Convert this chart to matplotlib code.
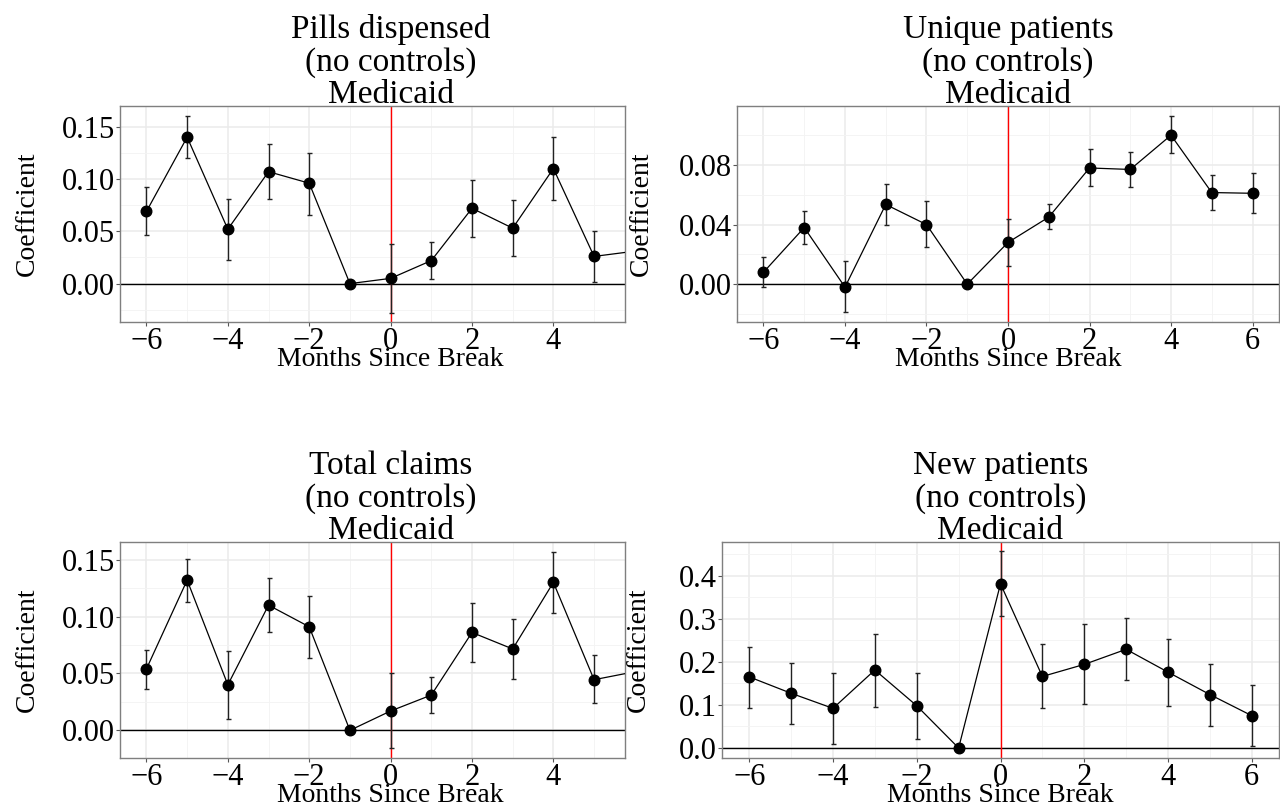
import matplotlib
matplotlib.use("Agg")
import matplotlib.pyplot as plt
import matplotlib.transforms as mtransforms
from matplotlib.ticker import MultipleLocator, FormatStrFormatter
import numpy as np

plt.rcParams["font.family"] = ["Liberation Serif", "DejaVu Serif"]

months = [-6, -5, -4, -3, -2, -1, 0, 1, 2, 3, 4, 5, 6]

pills_coef = [0.069, 0.140, 0.052, 0.107, 0.096, 0.0, 0.005, 0.022, 0.072, 0.053, 0.110, 0.026, 0.031]
pills_lo = [0.046, 0.120, 0.023, 0.081, 0.066, 0.0, -0.028, 0.004, 0.045, 0.026, 0.080, 0.002, 0.007]
pills_hi = [0.092, 0.160, 0.081, 0.133, 0.125, 0.0, 0.038, 0.040, 0.099, 0.080, 0.140, 0.050, 0.055]

patients_coef = [0.008, 0.038, -0.002, 0.0535, 0.040, 0.0, 0.028, 0.045, 0.078, 0.077, 0.100, 0.0615, 0.061]
patients_lo = [-0.002, 0.027, -0.019, 0.040, 0.025, 0.0, 0.012, 0.037, 0.066, 0.065, 0.088, 0.050, 0.048]
patients_hi = [0.018, 0.049, 0.0155, 0.067, 0.0555, 0.0, 0.0435, 0.0535, 0.0905, 0.089, 0.113, 0.0735, 0.0745]

claims_coef = [0.054, 0.132, 0.040, 0.110, 0.091, 0.0, 0.017, 0.031, 0.086, 0.0715, 0.130, 0.0445, 0.0515]
claims_lo = [0.0365, 0.113, 0.010, 0.086, 0.0635, 0.0, -0.0155, 0.015, 0.060, 0.045, 0.103, 0.024, 0.030]
claims_hi = [0.071, 0.151, 0.070, 0.134, 0.118, 0.0, 0.050, 0.047, 0.112, 0.098, 0.157, 0.066, 0.073]

new_coef = [0.165, 0.127, 0.092, 0.181, 0.098, 0.0, 0.381, 0.166, 0.194, 0.229, 0.176, 0.124, 0.075]
new_lo = [0.093, 0.055, 0.010, 0.096, 0.022, 0.0, 0.307, 0.092, 0.102, 0.158, 0.098, 0.051, 0.004]
new_hi = [0.235, 0.197, 0.175, 0.265, 0.174, 0.0, 0.457, 0.242, 0.287, 0.301, 0.254, 0.196, 0.147]

W, H = 1280, 808
fig = plt.figure(figsize=(W / 100, H / 100), dpi=100)
fig.patch.set_facecolor("white")


def px_box(left, top, right, bottom):
    return [left / W, 1 - bottom / H, (right - left) / W, (bottom - top) / H]


panels = [
    dict(title="Pills dispensed", coef=pills_coef, lo=pills_lo, hi=pills_hi,
         box=px_box(120, 106, 625, 322), xlim=(-6.65, 5.76), ylim=(-0.0367, 0.1698),
         major=0.05, fmt="%.2f", ylab_x=27),
    dict(title="Unique patients", coef=patients_coef, lo=patients_lo, hi=patients_hi,
         box=px_box(737, 106, 1279, 322), xlim=(-6.65, 6.65), ylim=(-0.0254, 0.1196),
         major=0.04, fmt="%.2f", ylab_x=641),
    dict(title="Total claims", coef=claims_coef, lo=claims_lo, hi=claims_hi,
         box=px_box(120, 542, 625, 758), xlim=(-6.65, 5.76), ylim=(-0.0243, 0.1655),
         major=0.05, fmt="%.2f", ylab_x=27),
    dict(title="New patients", coef=new_coef, lo=new_lo, hi=new_hi,
         box=px_box(722, 542, 1279, 758), xlim=(-6.65, 6.65), ylim=(-0.0232, 0.478),
         major=0.1, fmt="%.1f", ylab_x=638),
]

grid_col = "#EBEBEB"
frame_col = "#7F7F7F"

for p in panels:
    ax = fig.add_axes(p["box"])
    ax.set_facecolor("white")
    ax.set_xlim(*p["xlim"])
    ax.set_ylim(*p["ylim"])

    ax.xaxis.set_major_locator(MultipleLocator(2))
    ax.xaxis.set_minor_locator(MultipleLocator(1))
    ax.yaxis.set_major_locator(MultipleLocator(p["major"]))
    ax.yaxis.set_minor_locator(MultipleLocator(p["major"] / 2))
    ax.yaxis.set_major_formatter(FormatStrFormatter(p["fmt"]))

    ax.grid(which="major", color=grid_col, linewidth=1.1, zorder=0)
    ax.grid(which="minor", color="#F3F3F3", linewidth=0.6, zorder=0)
    ax.set_axisbelow(True)

    for s in ax.spines.values():
        s.set_color(frame_col)
        s.set_linewidth(1.0)

    ax.tick_params(which="major", direction="out", length=3, width=0.8,
                   color="#555555", labelsize=22, labelcolor="black", pad=0.5)
    ax.tick_params(which="minor", length=0)

    ax.axhline(0, color="black", linewidth=1.0, zorder=2)
    ax.axvline(0, color="#FF0000", linewidth=1.0, zorder=2.5)

    x = np.array(months, dtype=float)
    coef = np.array(p["coef"])
    lo = np.array(p["lo"])
    hi = np.array(p["hi"])
    has_ci = hi > lo
    ax.errorbar(x[has_ci], coef[has_ci],
                yerr=[coef[has_ci] - lo[has_ci], hi[has_ci] - coef[has_ci]],
                fmt="none", ecolor="#222222", elinewidth=1.0, capsize=1.8,
                capthick=1.0, zorder=3)
    ax.plot(x, coef, color="black", linewidth=0.9, zorder=4)
    ax.plot(x, coef, linestyle="none", marker="o", markersize=7.6,
            color="black", zorder=5)

    blend = mtransforms.blended_transform_factory(ax.transData, ax.transAxes)
    title_off = mtransforms.offset_copy(blend, fig=fig, x=0, y=-4, units="dots")
    ax.text(0, 1.0, p["title"] + "\n(no controls)\nMedicaid", transform=title_off,
            ha="center", va="bottom", fontsize=24, linespacing=1.08, clip_on=False)
    xlab_off = mtransforms.offset_copy(blend, fig=fig, x=0, y=-38, units="dots")
    ax.text(0, 0.0, "Months Since Break", transform=xlab_off, ha="center",
            va="center", fontsize=20, clip_on=False)

    box = p["box"]
    fig.text(p["ylab_x"] / W, box[1] + box[3] / 2, "Coefficient", rotation=90,
             ha="center", va="center", fontsize=20)

fig.savefig("out.png", dpi=100, facecolor="white")
